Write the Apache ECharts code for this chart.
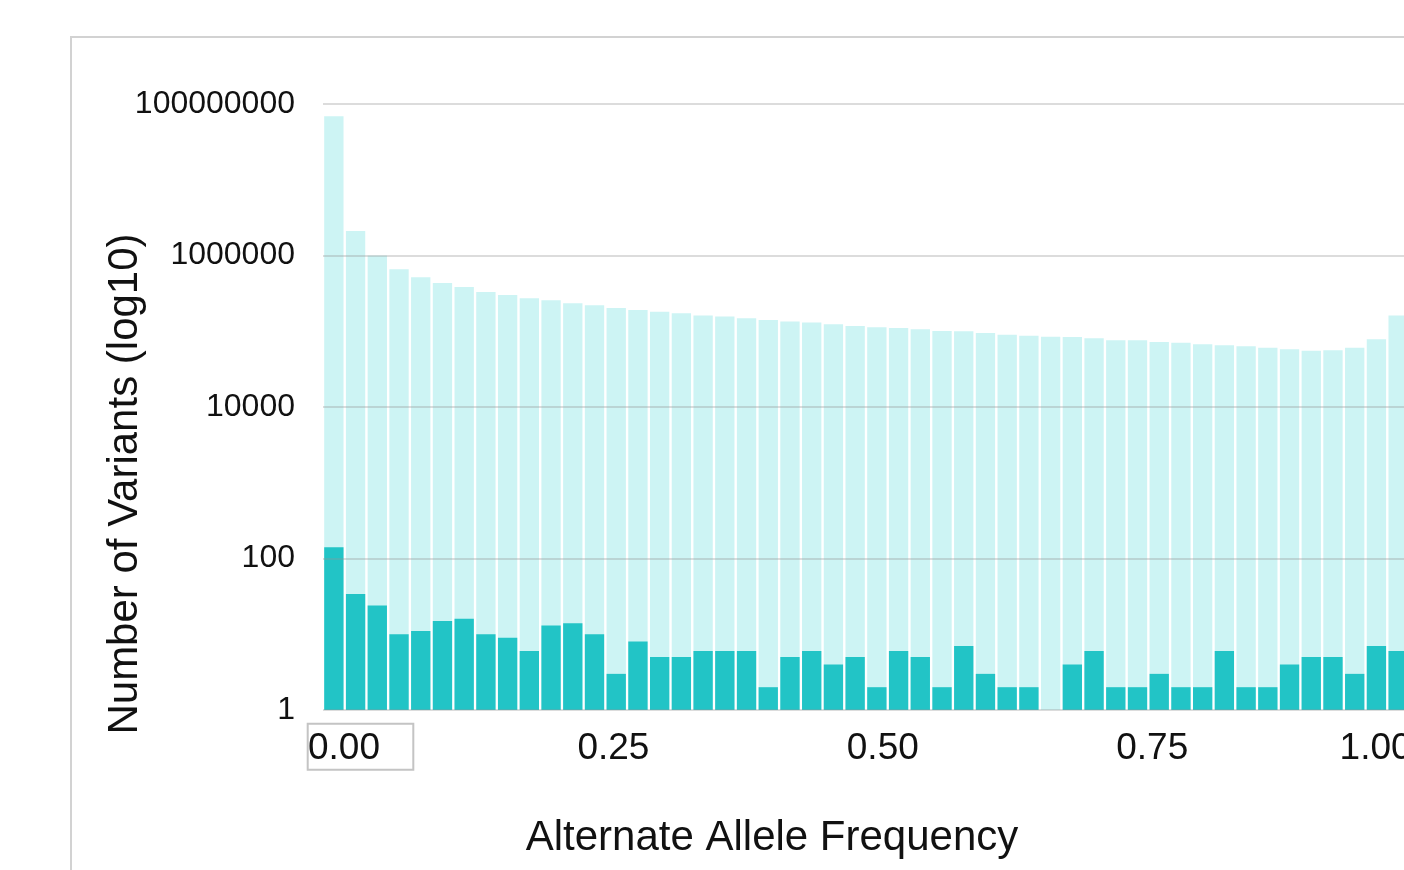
<!DOCTYPE html>
<html>
<head>
<meta charset="utf-8">
<script src="https://cdn.jsdelivr.net/npm/echarts@6/dist/echarts.min.js"></script>
<style>
html, body { margin: 0; padding: 0; width: 1404px; height: 870px; overflow: hidden; background: #ffffff; }
#frame { position: absolute; left: 70px; top: 36px; width: 1440px; height: 900px;
         border-left: 2px solid #d2d2d2; border-top: 2px solid #d2d2d2; }
#chart { position: absolute; left: 72px; top: 38px; width: 1400px; height: 840px; }
</style>
</head>
<body>
<div id="frame"></div>
<div id="chart"></div>
<script>
// ---- data ----
const binLabels = ['0.00','0.02','0.04','0.06','0.08','0.10','0.12','0.14','0.16','0.18',
                   '0.20','0.22','0.24','0.26','0.28','0.30','0.32','0.34','0.36','0.38',
                   '0.40','0.42','0.44','0.46','0.48','0.50','0.52','0.54','0.56','0.58',
                   '0.60','0.62','0.64','0.66','0.68','0.70','0.72','0.74','0.76','0.78',
                   '0.80','0.82','0.84','0.86','0.88','0.90','0.92','0.94','0.96','0.98'];

const allVariants = [69000000, 2100000, 1000000, 658000, 515000, 434000, 384000, 330000, 301000, 272000,
                     256000, 234000, 220000, 203000, 191000, 181000, 173000, 162000, 157000, 148000,
                     141000, 134000, 130000, 124000, 117000, 113000, 110000, 106000, 101000, 99800,
                     94800, 90000, 87300, 84300, 83900, 80700, 76000, 76000, 72100, 70600,
                     67200, 65300, 63300, 60700, 57800, 55400, 56000, 60700, 78300, 162000];

const passVariants = [141, 34, 24, 10, 11, 15, 16, 10, 9, 6,
                      13, 14, 10, 3, 8, 5, 5, 6, 6, 6,
                      2, 5, 6, 4, 5, 2, 6, 5, 2, 7,
                      3, 2, 2, null, 4, 6, 2, 2, 3, 2,
                      2, 6, 2, 2, 4, 5, 5, 3, 7, 6];

const xTickValues = [0, 0.25, 0.5, 0.75, 1.0];
const yTickValues = [1, 100, 10000, 1000000, 100000000];

const xTitle = 'Alternate Allele Frequency';
const yTitle = 'Number of Variants (log10)';

// ---- chart ----
const FONT = '"Liberation Sans", Arial, Helvetica, sans-serif';
const chart = echarts.init(document.getElementById('chart'), null, { renderer: 'canvas' });

const option = {
  animation: false,
  backgroundColor: '#ffffff',
  grid: [
    { left: 251, top: 66, width: 1086, height: 606 },
    { left: 250.45, top: 66, width: 1099.15, height: 606 }
  ],
  xAxis: [
    {
      type: 'category', gridIndex: 0, data: binLabels,
      axisLine: { show: false }, axisTick: { show: false }, axisLabel: { show: false },
      splitLine: { show: false },
      name: xTitle, nameLocation: 'middle', nameGap: 107, nameMoveOverlap: false,
      nameTextStyle: { fontSize: 42, color: '#111', fontFamily: FONT, padding: [0, 188, 0, 0] }
    },
    {
      type: 'value', gridIndex: 1, min: -0.02, max: 1.0,
      axisLine: { show: false }, axisTick: { show: false }, splitLine: { show: false },
      axisLabel: {
        customValues: xTickValues,
        fontSize: 37, color: '#111', fontFamily: FONT, margin: 20,
        formatter: function (v) {
          const s = v.toFixed(2);
          if (Math.abs(v - 1) < 1e-9) return '{r|' + s + '}';
          return s;
        },
        rich: { r: { fontSize: 37, color: '#111', fontFamily: FONT, padding: [0, 92, 0, 0] } }
      }
    }
  ],
  yAxis: [
    {
      type: 'log', logBase: 10, gridIndex: 0, min: 1, max: 100000000, z: 3,
      axisLine: { show: false }, axisTick: { show: false },
      splitLine: { show: true, lineStyle: { color: ['rgba(150,150,150,0.33)', 'rgba(0,0,0,0)'], width: 2 } },
      axisLabel: {
        fontSize: 32, color: '#111', fontFamily: FONT, margin: 28, padding: [7, 0, 0, 0],
        formatter: function (v) {
          const r = Math.round(v);
          return yTickValues.indexOf(r) >= 0 ? String(r) : '';
        }
      },
      name: yTitle, nameLocation: 'middle', nameGap: 177, nameRotate: 90, nameMoveOverlap: false,
      nameTextStyle: { fontSize: 42, color: '#111', fontFamily: FONT, padding: [0, 154, 0, 0] }
    },
    { type: 'value', gridIndex: 1, show: false }
  ],
  series: [
    {
      name: 'All', type: 'bar', xAxisIndex: 0, yAxisIndex: 0, data: allVariants,
      barCategoryGap: '11%', barGap: '-100%',
      itemStyle: { color: '#cdf4f4' }
    },
    {
      name: 'Subset', type: 'bar', xAxisIndex: 0, yAxisIndex: 0, data: passVariants,
      barCategoryGap: '11%', barGap: '-100%',
      itemStyle: { color: '#22c4c6' }
    }
  ]
};
chart.setOption(option);

// selection box around the first x label, anchored on the axis scale
const x0 = chart.convertToPixel({ xAxisIndex: 1 }, 0);
const yb = chart.convertToPixel({ yAxisIndex: 0 }, 1);
chart.setOption({
  graphic: [{
    type: 'rect', z: 100,
    shape: { x: x0 - 36.3, y: yb + 13.7, width: 105.6, height: 46 },
    style: { fill: 'none', stroke: '#c4c4c4', lineWidth: 2 }
  }]
});
</script>
</body>
</html>
